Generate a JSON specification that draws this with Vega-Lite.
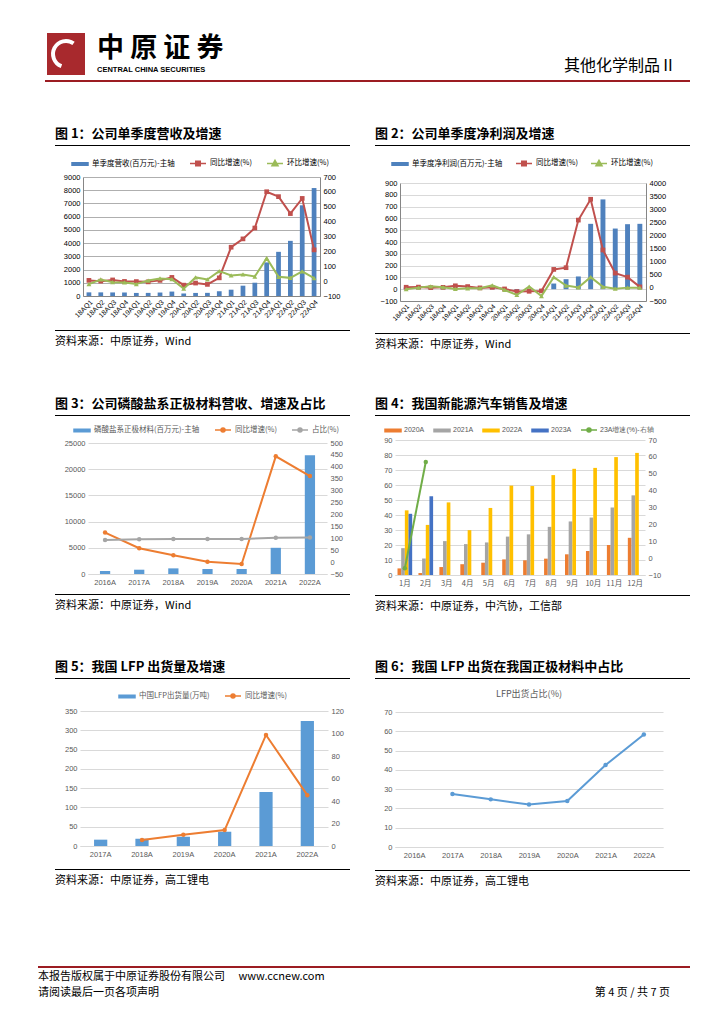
{
"$schema": "https://vega.github.io/schema/vega-lite/v6.json",
"background": "#ffffff",
"padding": {"left": 38, "top": 33, "right": 0, "bottom": 0},
"spacing": 0,
"resolve": {"scale": {"color": "independent"}, "legend": {"color": "independent"}},
"config": {
  "font": "Noto Sans CJK SC",
  "view": {"stroke": null},
  "axis": {"labelFont": "Liberation Sans", "labelFontSize": 7.5, "labelColor": "#000000", "ticks": false, "domain": false, "grid": false, "labelPadding": 3, "labelOverlap": false},
  "legend": {"labelFont": "Noto Sans CJK SC", "labelFontSize": 7.5, "symbolSize": 100, "labelOffset": 6, "columnPadding": 12, "layout": {"top": {"anchor": "middle"}}},
  "title": {"font": "Noto Sans CJK SC", "anchor": "start", "color": "#000000", "fontWeight": "normal"}
},
"vconcat": [
  {"spacing": 0, "hconcat": [
    {"width": 9, "height": 1, "data": {"values": []}, "mark": "point", "encoding": {}},
    {"width": 38, "height": 42, "data": {"values": [{"logo": "中原证券"}]},
     "mark": {"type": "arc", "innerRadius": 11, "outerRadius": 15, "theta": 3.5, "theta2": 6.9, "color": "#ffffff"}, "encoding": {},
     "view": {"fill": "#a8292d", "stroke": null}},
    {"width": 12, "height": 1, "data": {"values": []}, "mark": "point", "encoding": {}},
    {"spacing": 0, "vconcat": [
      {"width": 140, "height": 1, "data": {"values": []}, "mark": "point", "encoding": {}},
      {"width": 140, "height": 1, "data": {"values": []}, "mark": "point", "encoding": {},
       "title": {"text": "中 原 证 券", "subtitle": "CENTRAL CHINA SECURITIES", "anchor": "start", "fontSize": 27, "fontWeight": "bold", "subtitleFont": "Liberation Sans", "subtitleFontSize": 7.5, "subtitleFontWeight": "bold", "subtitleColor": "#000000", "subtitlePadding": 3, "offset": 0}}
    ]},
    {"width": 439, "height": 24, "data": {"values": []}, "mark": "point", "encoding": {},
     "title": {"text": "其他化学制品Ⅱ", "orient": "bottom", "anchor": "end", "fontSize": 16, "offset": 1}}
  ]},
  {"width": 10, "height": 5, "data": {"values": []}, "mark": "point", "encoding": {}},
  {"spacing": 0, "hconcat": [
    {"width": 7, "height": 1, "data": {"values": []}, "mark": "point", "encoding": {}},
    {"width": 645, "height": 2, "data": {"values": []}, "mark": "point", "encoding": {}, "view": {"fill": "#9c1c22", "stroke": null}}
  ]},
  {"width": 10, "height": 46, "data": {"values": []}, "mark": "point", "encoding": {}},
  {"spacing": 0, "resolve": {"scale": {"color": "independent"}, "legend": {"color": "independent"}}, "hconcat": [
    {"width": 17, "height": 1, "data": {"values": []}, "mark": "point", "encoding": {}},
    {"spacing": 11, "resolve": {"scale": {"color": "independent"}, "legend": {"color": "independent"}}, "vconcat": [
      {"width": 295, "height": 1, "data": {"values": []}, "mark": "point", "encoding": {}, "view": {"fill": "#000000", "stroke": null},
       "title": {"text": "图 1：公司单季度营收及增速", "orient": "top", "anchor": "start", "fontSize": 13, "fontWeight": "bold", "offset": 4}},
      {"spacing": 0, "resolve": {"scale": {"color": "independent"}, "legend": {"color": "independent"}}, "hconcat": [
      {"width": 1, "height": 1, "data": {"values": []}, "mark": "point", "encoding": {}},
      {"width": 237, "height": 119,
       "data": {"values": [
        {"q": "18AQ1", "rev": 276, "yoy": 5, "qoq": -20},
        {"q": "18AQ2", "rev": 275, "yoy": 0, "qoq": 11},
        {"q": "18AQ3", "rev": 270, "yoy": 8, "qoq": -7},
        {"q": "18AQ4", "rev": 262, "yoy": -2, "qoq": -9},
        {"q": "19AQ1", "rev": 232, "yoy": -3, "qoq": -20},
        {"q": "19AQ2", "rev": 235, "yoy": -5, "qoq": 4},
        {"q": "19AQ3", "rev": 262, "yoy": 5, "qoq": 18},
        {"q": "19AQ4", "rev": 335, "yoy": 25, "qoq": 13},
        {"q": "20AQ1", "rev": 190, "yoy": -27, "qoq": -51},
        {"q": "20AQ2", "rev": 232, "yoy": -13, "qoq": 25},
        {"q": "20AQ3", "rev": 238, "yoy": -22, "qoq": 11},
        {"q": "20AQ4", "rev": 360, "yoy": 22, "qoq": 67},
        {"q": "21AQ1", "rev": 477, "yoy": 228, "qoq": 38},
        {"q": "21AQ2", "rev": 780, "yoy": 284, "qoq": 45},
        {"q": "21AQ3", "rev": 1005, "yoy": 357, "qoq": 31},
        {"q": "21AQ4", "rev": 2540, "yoy": 601, "qoq": 154},
        {"q": "22AQ1", "rev": 3340, "yoy": 568, "qoq": 29},
        {"q": "22AQ2", "rev": 4170, "yoy": 454, "qoq": 22},
        {"q": "22AQ3", "rev": 6860, "yoy": 556, "qoq": 65},
        {"q": "22AQ4", "rev": 8165, "yoy": 210, "qoq": 20}
       ]},
       "encoding": {"x": {"field": "q", "type": "nominal", "sort": null, "scale": {"paddingInner": 0, "paddingOuter": 0}, "axis": {"title": null, "labelAngle": -45, "labelFontSize": 7, "domain": true, "domainColor": "#868686", "labelPadding": 2, "labelOverlap": false}}},
       "layer": [
        {"mark": {"type": "bar", "width": {"band": 0.4}},
         "encoding": {
          "y": {"field": "rev", "type": "quantitative", "scale": {"domain": [0, 9000], "nice": false}, "axis": {"title": null, "orient": "left", "format": "d", "labelOverlap": false, "values": [0, 1000, 2000, 3000, 4000, 5000, 6000, 7000, 8000, 9000], "tickCount": 20, "grid": true, "gridColor": "#8c8c8c", "gridWidth": 0.7, "domain": true, "domainColor": "#868686", "minExtent": 27, "maxExtent": 27}},
          "color": {"datum": "单季度营收(百万元)-主轴", "type": "nominal", "scale": {"domain": ["单季度营收(百万元)-主轴", "同比增速(%)", "环比增速(%)"], "range": ["#4f81bd", "#c0504d", "#9bbb59"]},
           "legend": {"title": null, "orient": "top", "direction": "horizontal", "offset": 8, "labelColor": "#000000",
            "encode": {"symbols": {"update": {
              "shape": {"signal": "datum.value === '同比增速(%)' ? 'M-1.6,0H1.6M-0.45,-0.45H0.45V0.45H-0.45Z' : datum.value === '环比增速(%)' ? 'M-1.6,0H1.6M0,-0.6L0.6,0.45H-0.6Z' : 'M-1.6,-0.25H1.6V0.25H-1.6Z'"},
              "fill": {"signal": "datum.value === '同比增速(%)' ? '#c0504d' : datum.value === '环比增速(%)' ? '#9bbb59' : '#4f81bd'"},
              "stroke": {"signal": "datum.value === '同比增速(%)' ? '#c0504d' : datum.value === '环比增速(%)' ? '#9bbb59' : '#4f81bd'"},
              "strokeWidth": {"value": 1.5}, "opacity": {"value": 1}}}}}}
         }},
        {"layer": [
          {"mark": {"type": "line", "strokeWidth": 2, "point": {"shape": "square", "size": 22, "filled": true}},
           "encoding": {"y": {"field": "yoy", "type": "quantitative", "scale": {"domain": [-100, 700], "nice": false, "zero": false}, "axis": {"title": null, "orient": "right", "format": "d", "labelOverlap": false, "values": [-100, 0, 100, 200, 300, 400, 500, 600, 700], "tickCount": 20, "domain": true, "domainColor": "#868686", "minExtent": 25, "maxExtent": 25}},
            "color": {"datum": "同比增速(%)", "type": "nominal"}}},
          {"mark": {"type": "line", "strokeWidth": 2, "point": {"shape": "triangle-up", "size": 24, "filled": true}},
           "encoding": {"y": {"field": "qoq", "type": "quantitative", "axis": {"title": null, "orient": "right", "format": "d", "labelOverlap": false, "values": [-100, 0, 100, 200, 300, 400, 500, 600, 700], "tickCount": 20, "domain": true, "domainColor": "#868686", "minExtent": 25, "maxExtent": 25}}, "color": {"datum": "环比增速(%)", "type": "nominal"}}}
        ]}
       ],
       "resolve": {"scale": {"y": "independent"}}
      }]},
      {"width": 295, "height": 1, "data": {"values": []}, "mark": "point", "encoding": {}, "view": {"fill": "#000000", "stroke": null},
       "title": {"text": "资料来源：中原证券，Wind", "orient": "bottom", "anchor": "start", "fontSize": 11, "offset": 5}}
    ]},
    {"width": 25, "height": 1, "data": {"values": []}, "mark": "point", "encoding": {}},
    {"spacing": 11, "resolve": {"scale": {"color": "independent"}, "legend": {"color": "independent"}}, "vconcat": [
      {"width": 315, "height": 1, "data": {"values": []}, "mark": "point", "encoding": {}, "view": {"fill": "#000000", "stroke": null},
       "title": {"text": "图 2：公司单季度净利润及增速", "orient": "top", "anchor": "start", "fontSize": 13, "fontWeight": "bold", "offset": 4}},
      {"spacing": 0, "resolve": {"scale": {"color": "independent"}, "legend": {"color": "independent"}}, "hconcat": [
      {"width": 1, "height": 1, "data": {"values": []}, "mark": "point", "encoding": {}},
      {"width": 246, "height": 118,
       "data": {"values": [
        {"q": "18AQ1", "np": 15, "yoy": 25, "qoq": -50},
        {"q": "18AQ2", "np": 16, "yoy": 30, "qoq": 10},
        {"q": "18AQ3", "np": 18, "yoy": 10, "qoq": 60},
        {"q": "18AQ4", "np": 17, "yoy": 20, "qoq": 25},
        {"q": "19AQ1", "np": 12, "yoy": 80, "qoq": -40},
        {"q": "19AQ2", "np": 14, "yoy": 50, "qoq": -15},
        {"q": "19AQ3", "np": 12, "yoy": 0, "qoq": -10},
        {"q": "19AQ4", "np": 18, "yoy": 20, "qoq": 100},
        {"q": "20AQ1", "np": 5, "yoy": -40, "qoq": -80},
        {"q": "20AQ2", "np": -8, "yoy": -140, "qoq": -270},
        {"q": "20AQ3", "np": 4, "yoy": -130, "qoq": 50},
        {"q": "20AQ4", "np": -12, "yoy": -115, "qoq": -310},
        {"q": "21AQ1", "np": 48, "yoy": 705, "qoq": 410},
        {"q": "21AQ2", "np": 85, "yoy": 770, "qoq": 90},
        {"q": "21AQ3", "np": 108, "yoy": 2585, "qoq": 15},
        {"q": "21AQ4", "np": 554, "yoy": 3380, "qoq": 410},
        {"q": "22AQ1", "np": 761, "yoy": 1445, "qoq": 40},
        {"q": "22AQ2", "np": 514, "yoy": 563, "qoq": -30},
        {"q": "22AQ3", "np": 551, "yoy": 410, "qoq": 10},
        {"q": "22AQ4", "np": 554, "yoy": 38, "qoq": 10}
       ]},
       "encoding": {"x": {"field": "q", "type": "nominal", "sort": null, "scale": {"paddingInner": 0, "paddingOuter": 0}, "axis": {"title": null, "labelAngle": -45, "labelFontSize": 6.5, "domain": true, "domainColor": "#868686", "labelPadding": 2, "labelOverlap": false}}},
       "layer": [
        {"mark": {"type": "bar", "width": {"band": 0.4}},
         "encoding": {
          "y": {"field": "np", "type": "quantitative", "scale": {"domain": [-100, 900], "nice": false, "zero": false}, "axis": {"title": null, "orient": "left", "format": "d", "labelOverlap": false, "values": [-100, 0, 100, 200, 300, 400, 500, 600, 700, 800, 900], "tickCount": 20, "grid": true, "gridColor": "#c8c8c8", "gridWidth": 0.7, "domain": true, "domainColor": "#868686", "minExtent": 24, "maxExtent": 24}},
          "color": {"datum": "单季度净利润(百万元)-主轴", "type": "nominal", "scale": {"domain": ["单季度净利润(百万元)-主轴", "同比增速(%)", "环比增速(%)"], "range": ["#4f81bd", "#c0504d", "#9bbb59"]},
           "legend": {"title": null, "orient": "top", "direction": "horizontal", "offset": 14, "labelColor": "#000000", "columnPadding": 10,
            "encode": {"symbols": {"update": {
              "shape": {"signal": "datum.value === '同比增速(%)' ? 'M-1.6,0H1.6M-0.45,-0.45H0.45V0.45H-0.45Z' : datum.value === '环比增速(%)' ? 'M-1.6,0H1.6M0,-0.6L0.6,0.45H-0.6Z' : 'M-1.6,-0.25H1.6V0.25H-1.6Z'"},
              "fill": {"signal": "datum.value === '同比增速(%)' ? '#c0504d' : datum.value === '环比增速(%)' ? '#9bbb59' : '#4f81bd'"},
              "stroke": {"signal": "datum.value === '同比增速(%)' ? '#c0504d' : datum.value === '环比增速(%)' ? '#9bbb59' : '#4f81bd'"},
              "strokeWidth": {"value": 1.5}, "opacity": {"value": 1}}}}}}
         }},
        {"layer": [
          {"mark": {"type": "line", "strokeWidth": 2, "point": {"shape": "square", "size": 22, "filled": true}},
           "encoding": {"y": {"field": "yoy", "type": "quantitative", "scale": {"domain": [-500, 4000], "nice": false, "zero": false}, "axis": {"title": null, "orient": "right", "format": "d", "labelOverlap": false, "values": [-500, 0, 500, 1000, 1500, 2000, 2500, 3000, 3500, 4000], "tickCount": 20, "domain": true, "domainColor": "#868686", "minExtent": 28, "maxExtent": 28}},
            "color": {"datum": "同比增速(%)", "type": "nominal"}}},
          {"mark": {"type": "line", "strokeWidth": 2, "point": {"shape": "triangle-up", "size": 24, "filled": true}},
           "encoding": {"y": {"field": "qoq", "type": "quantitative", "axis": {"title": null, "orient": "right", "format": "d", "labelOverlap": false, "values": [-500, 0, 500, 1000, 1500, 2000, 2500, 3000, 3500, 4000], "tickCount": 20, "domain": true, "domainColor": "#868686", "minExtent": 28, "maxExtent": 28}}, "color": {"datum": "环比增速(%)", "type": "nominal"}}}
        ]}
       ],
       "resolve": {"scale": {"y": "independent"}}
      }]},
      {"width": 315, "height": 1, "data": {"values": []}, "mark": "point", "encoding": {}, "view": {"fill": "#000000", "stroke": null},
       "title": {"text": "资料来源：中原证券，Wind", "orient": "bottom", "anchor": "start", "fontSize": 11, "offset": 5}}
    ]}
  ]},
  {"width": 10, "height": 48, "data": {"values": []}, "mark": "point", "encoding": {}},
  {"spacing": 0, "resolve": {"scale": {"color": "independent"}, "legend": {"color": "independent"}}, "hconcat": [
    {"width": 17, "height": 1, "data": {"values": []}, "mark": "point", "encoding": {}},
    {"spacing": 8, "resolve": {"scale": {"color": "independent"}, "legend": {"color": "independent"}}, "vconcat": [
      {"width": 295, "height": 1, "data": {"values": []}, "mark": "point", "encoding": {}, "view": {"fill": "#000000", "stroke": null},
       "title": {"text": "图 3：公司磷酸盐系正极材料营收、增速及占比", "orient": "top", "anchor": "start", "fontSize": 13, "fontWeight": "bold", "offset": 4}},
      {"spacing": 0, "resolve": {"scale": {"color": "independent"}, "legend": {"color": "independent"}}, "hconcat": [
      {"width": 1, "height": 1, "data": {"values": []}, "mark": "point", "encoding": {}},
      {"width": 239, "height": 131,
       "data": {"values": [
        {"year": "2016A", "rev": 570, "yoy": 124, "share": 93},
        {"year": "2017A", "rev": 820, "yoy": 58, "share": 96},
        {"year": "2018A", "rev": 1075, "yoy": 29, "share": 97},
        {"year": "2019A", "rev": 950, "yoy": 1, "share": 97},
        {"year": "2020A", "rev": 950, "yoy": -8, "share": 97},
        {"year": "2021A", "rev": 5000, "yoy": 444, "share": 102},
        {"year": "2022A", "rev": 22660, "yoy": 361, "share": 103}
       ]},
       "encoding": {"x": {"field": "year", "type": "nominal", "sort": null, "scale": {"paddingInner": 0, "paddingOuter": 0}, "axis": {"title": null, "labelAngle": 0, "labelColor": "#595959", "domain": true, "domainColor": "#d9d9d9", "labelPadding": 4}}},
       "layer": [
        {"mark": {"type": "bar", "width": {"band": 0.3}},
         "encoding": {
          "y": {"field": "rev", "type": "quantitative", "scale": {"domain": [0, 25000], "nice": false}, "axis": {"title": null, "orient": "left", "format": "d", "labelOverlap": false, "values": [0, 5000, 10000, 15000, 20000, 25000], "tickCount": 20, "grid": true, "gridColor": "#d9d9d9", "labelColor": "#595959", "minExtent": 32, "maxExtent": 32}},
          "color": {"datum": "磷酸盐系正极材料(百万元)-主轴", "type": "nominal", "scale": {"domain": ["磷酸盐系正极材料(百万元)-主轴", "同比增速(%)", "占比(%)"], "range": ["#5b9bd5", "#ed7d31", "#a5a5a5"]},
           "legend": {"title": null, "orient": "top", "direction": "horizontal", "offset": 8, "labelColor": "#595959",
            "encode": {"symbols": {"update": {
              "shape": {"signal": "datum.value === '同比增速(%)' || datum.value === '占比(%)' ? 'M-1.6,0H1.6M0.4,0A0.4,0.4,0,1,1,-0.4,0A0.4,0.4,0,1,1,0.4,0' : 'M-1.6,-0.25H1.6V0.25H-1.6Z'"},
              "fill": {"signal": "datum.value === '同比增速(%)' ? '#ed7d31' : datum.value === '占比(%)' ? '#a5a5a5' : '#5b9bd5'"},
              "stroke": {"signal": "datum.value === '同比增速(%)' ? '#ed7d31' : datum.value === '占比(%)' ? '#a5a5a5' : '#5b9bd5'"},
              "strokeWidth": {"value": 1.5}, "opacity": {"value": 1}}}}}}
         }},
        {"layer": [
          {"mark": {"type": "line", "strokeWidth": 2, "point": {"size": 20, "filled": true}},
           "encoding": {"y": {"field": "yoy", "type": "quantitative", "scale": {"domain": [-50, 500], "nice": false, "zero": false}, "axis": {"title": null, "orient": "right", "format": "d", "labelOverlap": false, "values": [-50, 0, 50, 100, 150, 200, 250, 300, 350, 400, 450, 500], "tickCount": 20, "labelColor": "#595959", "minExtent": 23, "maxExtent": 23}},
            "color": {"datum": "同比增速(%)", "type": "nominal"}}},
          {"mark": {"type": "line", "strokeWidth": 2, "point": {"size": 20, "filled": true}},
           "encoding": {"y": {"field": "share", "type": "quantitative", "axis": {"title": null, "orient": "right", "format": "d", "labelOverlap": false, "values": [-50, 0, 50, 100, 150, 200, 250, 300, 350, 400, 450, 500], "tickCount": 20, "labelColor": "#595959", "minExtent": 23, "maxExtent": 23}}, "color": {"datum": "占比(%)", "type": "nominal"}}}
        ]}
       ],
       "resolve": {"scale": {"y": "independent"}}
      }]},
      {"width": 295, "height": 1, "data": {"values": []}, "mark": "point", "encoding": {}, "view": {"fill": "#000000", "stroke": null},
       "title": {"text": "资料来源：中原证券，Wind", "orient": "bottom", "anchor": "start", "fontSize": 11, "offset": 5}}
    ]},
    {"width": 25, "height": 1, "data": {"values": []}, "mark": "point", "encoding": {}},
    {"spacing": 8, "resolve": {"scale": {"color": "independent"}, "legend": {"color": "independent"}}, "vconcat": [
      {"width": 315, "height": 1, "data": {"values": []}, "mark": "point", "encoding": {}, "view": {"fill": "#000000", "stroke": null},
       "title": {"text": "图 4：我国新能源汽车销售及增速", "orient": "top", "anchor": "start", "fontSize": 13, "fontWeight": "bold", "offset": 4}},
      {"spacing": 0, "resolve": {"scale": {"color": "independent"}, "legend": {"color": "independent"}}, "hconcat": [
      {"width": 1, "height": 1, "data": {"values": []}, "mark": "point", "encoding": {}},
      {"width": 250, "height": 135,
       "layer": [
        {"data": {"values": [
          {"m": "1月", "y": "2020A", "v": 4.4}, {"m": "1月", "y": "2021A", "v": 17.9}, {"m": "1月", "y": "2022A", "v": 43.1}, {"m": "1月", "y": "2023A", "v": 40.8},
          {"m": "2月", "y": "2020A", "v": 1.3}, {"m": "2月", "y": "2021A", "v": 11.0}, {"m": "2月", "y": "2022A", "v": 33.4}, {"m": "2月", "y": "2023A", "v": 52.5},
          {"m": "3月", "y": "2020A", "v": 5.3}, {"m": "3月", "y": "2021A", "v": 22.6}, {"m": "3月", "y": "2022A", "v": 48.4},
          {"m": "4月", "y": "2020A", "v": 7.2}, {"m": "4月", "y": "2021A", "v": 20.6}, {"m": "4月", "y": "2022A", "v": 29.9},
          {"m": "5月", "y": "2020A", "v": 8.2}, {"m": "5月", "y": "2021A", "v": 21.7}, {"m": "5月", "y": "2022A", "v": 44.7},
          {"m": "6月", "y": "2020A", "v": 10.4}, {"m": "6月", "y": "2021A", "v": 25.6}, {"m": "6月", "y": "2022A", "v": 59.6},
          {"m": "7月", "y": "2020A", "v": 9.8}, {"m": "7月", "y": "2021A", "v": 27.1}, {"m": "7月", "y": "2022A", "v": 59.3},
          {"m": "8月", "y": "2020A", "v": 10.9}, {"m": "8月", "y": "2021A", "v": 32.1}, {"m": "8月", "y": "2022A", "v": 66.6},
          {"m": "9月", "y": "2020A", "v": 13.8}, {"m": "9月", "y": "2021A", "v": 35.7}, {"m": "9月", "y": "2022A", "v": 70.8},
          {"m": "10月", "y": "2020A", "v": 16.0}, {"m": "10月", "y": "2021A", "v": 38.3}, {"m": "10月", "y": "2022A", "v": 71.4},
          {"m": "11月", "y": "2020A", "v": 20.0}, {"m": "11月", "y": "2021A", "v": 45.0}, {"m": "11月", "y": "2022A", "v": 78.6},
          {"m": "12月", "y": "2020A", "v": 24.8}, {"m": "12月", "y": "2021A", "v": 53.1}, {"m": "12月", "y": "2022A", "v": 81.4}
         ]},
         "mark": {"type": "bar"},
         "encoding": {
          "x": {"field": "m", "type": "nominal", "sort": null, "scale": {"domain": ["1月", "2月", "3月", "4月", "5月", "6月", "7月", "8月", "9月", "10月", "11月", "12月"], "paddingInner": 0.3, "paddingOuter": 0.12}, "axis": {"title": null, "labelAngle": 0, "labelFont": "Noto Sans CJK SC", "labelColor": "#595959", "domain": true, "domainColor": "#d9d9d9", "labelPadding": 4, "labelOverlap": false}},
          "xOffset": {"field": "y", "type": "nominal", "scale": {"domain": ["2020A", "2021A", "2022A", "2023A"], "paddingInner": 0}},
          "y": {"field": "v", "type": "quantitative", "scale": {"domain": [0, 90], "nice": false}, "axis": {"title": null, "orient": "left", "format": "d", "labelOverlap": false, "values": [0, 10, 20, 30, 40, 50, 60, 70, 80, 90], "tickCount": 20, "grid": true, "gridColor": "#d9d9d9", "labelColor": "#595959", "minExtent": 19, "maxExtent": 19}},
          "color": {"field": "y", "type": "nominal", "scale": {"domain": ["2020A", "2021A", "2022A", "2023A", "23A增速(%)-右轴"], "range": ["#ed7d31", "#a5a5a5", "#ffc000", "#4472c4", "#70ad47"]},
           "legend": {"title": null, "orient": "top", "direction": "horizontal", "offset": 5, "labelColor": "#595959", "labelFont": "Liberation Sans", "labelFontSize": 7, "labelOffset": 5, "columnPadding": 6,
            "encode": {"symbols": {"update": {
              "shape": {"signal": "datum.value === '23A增速(%)-右轴' ? 'M-1.6,0H1.6M0.4,0A0.4,0.4,0,1,1,-0.4,0A0.4,0.4,0,1,1,0.4,0' : 'M-1.6,-0.25H1.6V0.25H-1.6Z'"},
              "fill": {"signal": "datum.value === '2020A' ? '#ed7d31' : datum.value === '2021A' ? '#a5a5a5' : datum.value === '2022A' ? '#ffc000' : datum.value === '2023A' ? '#4472c4' : '#70ad47'"},
              "stroke": {"signal": "datum.value === '2020A' ? '#ed7d31' : datum.value === '2021A' ? '#a5a5a5' : datum.value === '2022A' ? '#ffc000' : datum.value === '2023A' ? '#4472c4' : '#70ad47'"},
              "strokeWidth": {"value": 1.5}, "opacity": {"value": 1}}}}}}
         }},
        {"data": {"values": [{"m": "1月", "g": -6}, {"m": "2月", "g": 57}]},
         "mark": {"type": "line", "strokeWidth": 2, "point": {"size": 20, "filled": true}},
         "encoding": {
          "x": {"field": "m", "type": "nominal", "sort": null},
          "y": {"field": "g", "type": "quantitative", "scale": {"domain": [-10, 70], "nice": false, "zero": false}, "axis": {"title": null, "orient": "right", "format": "d", "labelOverlap": false, "values": [-10, 0, 10, 20, 30, 40, 50, 60, 70], "tickCount": 20, "labelColor": "#595959", "minExtent": 20, "maxExtent": 20}},
          "color": {"datum": "23A增速(%)-右轴", "type": "nominal"}
         }}
       ],
       "resolve": {"scale": {"y": "independent"}}
      }]},
      {"width": 315, "height": 1, "data": {"values": []}, "mark": "point", "encoding": {}, "view": {"fill": "#000000", "stroke": null},
       "title": {"text": "资料来源：中原证券，中汽协，工信部", "orient": "bottom", "anchor": "start", "fontSize": 11, "offset": 5}}
    ]}
  ]},
  {"width": 10, "height": 49, "data": {"values": []}, "mark": "point", "encoding": {}},
  {"spacing": 0, "resolve": {"scale": {"color": "independent"}, "legend": {"color": "independent"}}, "hconcat": [
    {"width": 17, "height": 1, "data": {"values": []}, "mark": "point", "encoding": {}},
    {"spacing": 11, "resolve": {"scale": {"color": "independent"}, "legend": {"color": "independent"}}, "vconcat": [
      {"width": 295, "height": 1, "data": {"values": []}, "mark": "point", "encoding": {}, "view": {"fill": "#000000", "stroke": null},
       "title": {"text": "图 5：我国 LFP 出货量及增速", "orient": "top", "anchor": "start", "fontSize": 13, "fontWeight": "bold", "offset": 4}},
      {"spacing": 0, "resolve": {"scale": {"color": "independent"}, "legend": {"color": "independent"}}, "hconcat": [
      {"width": 1, "height": 1, "data": {"values": []}, "mark": "point", "encoding": {}},
      {"width": 248, "height": 135,
       "data": {"values": [
        {"year": "2017A", "ship": 16.4, "yoy": null},
        {"year": "2018A", "ship": 19, "yoy": 5.3},
        {"year": "2019A", "ship": 24, "yoy": 10},
        {"year": "2020A", "ship": 37, "yoy": 14.2},
        {"year": "2021A", "ship": 140, "yoy": 98.7},
        {"year": "2022A", "ship": 324, "yoy": 45.2}
       ]},
       "encoding": {"x": {"field": "year", "type": "nominal", "sort": null, "scale": {"paddingInner": 0, "paddingOuter": 0}, "axis": {"title": null, "labelAngle": 0, "labelColor": "#595959", "domain": true, "domainColor": "#d9d9d9", "labelPadding": 4}}},
       "layer": [
        {"mark": {"type": "bar", "width": {"band": 0.32}},
         "encoding": {
          "y": {"field": "ship", "type": "quantitative", "scale": {"domain": [0, 350], "nice": false}, "axis": {"title": null, "orient": "left", "format": "d", "labelOverlap": false, "values": [0, 50, 100, 150, 200, 250, 300, 350], "tickCount": 20, "grid": true, "gridColor": "#d9d9d9", "labelColor": "#595959", "minExtent": 24, "maxExtent": 24}},
          "color": {"datum": "中国LFP出货量(万吨)", "type": "nominal", "scale": {"domain": ["中国LFP出货量(万吨)", "同比增速(%)"], "range": ["#5b9bd5", "#ed7d31"]},
           "legend": {"title": null, "orient": "top", "direction": "horizontal", "offset": 10, "labelColor": "#595959",
            "encode": {"symbols": {"update": {
              "shape": {"signal": "datum.value === '同比增速(%)' ? 'M-1.6,0H1.6M0.4,0A0.4,0.4,0,1,1,-0.4,0A0.4,0.4,0,1,1,0.4,0' : 'M-1.6,-0.25H1.6V0.25H-1.6Z'"},
              "fill": {"signal": "datum.value === '同比增速(%)' ? '#ed7d31' : '#5b9bd5'"},
              "stroke": {"signal": "datum.value === '同比增速(%)' ? '#ed7d31' : '#5b9bd5'"},
              "strokeWidth": {"value": 1.5}, "opacity": {"value": 1}}}}}}
         }},
        {"mark": {"type": "line", "strokeWidth": 2, "point": {"size": 20, "filled": true}},
         "encoding": {"y": {"field": "yoy", "type": "quantitative", "scale": {"domain": [0, 120], "nice": false}, "axis": {"title": null, "orient": "right", "format": "d", "labelOverlap": false, "values": [0, 20, 40, 60, 80, 100, 120], "tickCount": 20, "labelColor": "#595959", "minExtent": 22, "maxExtent": 22}},
          "color": {"datum": "同比增速(%)", "type": "nominal"}}}
       ],
       "resolve": {"scale": {"y": "independent"}}
      }]},
      {"width": 295, "height": 1, "data": {"values": []}, "mark": "point", "encoding": {}, "view": {"fill": "#000000", "stroke": null},
       "title": {"text": "资料来源：中原证券，高工锂电", "orient": "bottom", "anchor": "start", "fontSize": 11, "offset": 5}}
    ]},
    {"width": 25, "height": 1, "data": {"values": []}, "mark": "point", "encoding": {}},
    {"spacing": 11, "vconcat": [
      {"width": 315, "height": 1, "data": {"values": []}, "mark": "point", "encoding": {}, "view": {"fill": "#000000", "stroke": null},
       "title": {"text": "图 6：我国 LFP 出货在我国正极材料中占比", "orient": "top", "anchor": "start", "fontSize": 13, "fontWeight": "bold", "offset": 4}},
      {"spacing": 0, "hconcat": [
      {"width": 1, "height": 1, "data": {"values": []}, "mark": "point", "encoding": {}},
      {"width": 268, "height": 135,
       "title": {"text": "LFP出货占比(%)", "anchor": "middle", "frame": "group", "fontSize": 9, "color": "#595959", "offset": 9},
       "data": {"values": [
        {"year": "2017A", "share": 27.5},
        {"year": "2018A", "share": 24.7},
        {"year": "2019A", "share": 22.0},
        {"year": "2020A", "share": 23.8},
        {"year": "2021A", "share": 42.5},
        {"year": "2022A", "share": 58.3}
       ]},
       "mark": {"type": "line", "color": "#5b9bd5", "strokeWidth": 2, "point": {"size": 20, "filled": true, "color": "#5b9bd5"}},
       "encoding": {
        "x": {"field": "year", "type": "nominal", "sort": null, "scale": {"domain": ["2016A", "2017A", "2018A", "2019A", "2020A", "2021A", "2022A"], "padding": 0.5}, "axis": {"title": null, "labelAngle": 0, "labelColor": "#595959", "domain": true, "domainColor": "#d9d9d9", "labelPadding": 4}},
        "y": {"field": "share", "type": "quantitative", "scale": {"domain": [0, 70], "nice": false}, "axis": {"title": null, "format": "d", "labelOverlap": false, "values": [0, 10, 20, 30, 40, 50, 60, 70], "tickCount": 20, "grid": true, "gridColor": "#d9d9d9", "labelColor": "#595959", "minExtent": 19, "maxExtent": 19}}
       }
      }]},
      {"width": 315, "height": 1, "data": {"values": []}, "mark": "point", "encoding": {}, "view": {"fill": "#000000", "stroke": null},
       "title": {"text": "资料来源：中原证券，高工锂电", "orient": "bottom", "anchor": "start", "fontSize": 11, "offset": 5}}
    ]}
  ]},
  {"width": 10, "height": 79, "data": {"values": []}, "mark": "point", "encoding": {}},
  {"spacing": 0, "hconcat": [
    {"width": 532, "height": 2, "data": {"values": []}, "mark": "point", "encoding": {}, "view": {"fill": "#9c1c22", "stroke": null},
     "title": {"text": ["本报告版权属于中原证券股份有限公司　 www.ccnew.com", "请阅读最后一页各项声明"], "orient": "bottom", "anchor": "start", "fontSize": 11, "lineHeight": 16, "offset": 3}},
    {"width": 120, "height": 2, "data": {"values": []}, "mark": "point", "encoding": {}, "view": {"fill": "#9c1c22", "stroke": null},
     "title": {"text": ["", "第 4 页  /  共 7 页"], "orient": "bottom", "anchor": "end", "fontSize": 11, "lineHeight": 16, "offset": 3, "dx": -20}}
  ]}
]
}
